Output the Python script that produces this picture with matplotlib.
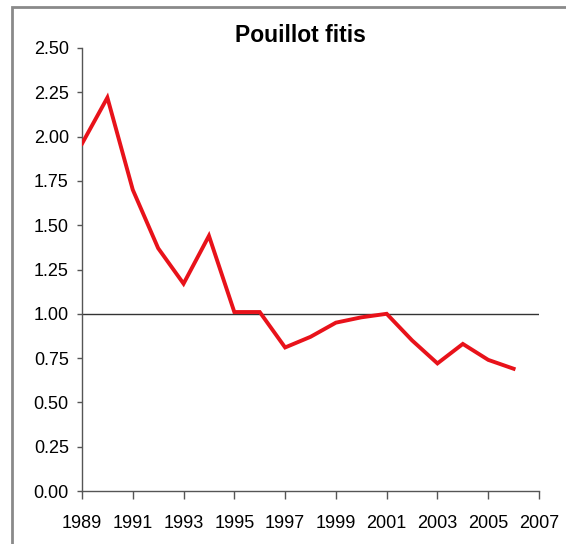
import matplotlib
matplotlib.use('Agg')
import matplotlib.pyplot as plt
from matplotlib.patches import Rectangle

plt.rcParams['font.family'] = 'Liberation Sans'

# index values
years = [1989, 1990, 1991, 1992, 1993, 1994, 1995, 1996, 1997,
         1998, 1999, 2000, 2001, 2002, 2003, 2004, 2005, 2006]
index = [1.96, 2.22, 1.70, 1.37, 1.17, 1.44, 1.01, 1.01, 0.81,
         0.87, 0.95, 0.98, 1.00, 0.85, 0.72, 0.83, 0.74, 0.69]
xticks = list(range(1989, 2008, 2))
yticks = [0, 0.25, 0.5, 0.75, 1.0, 1.25, 1.5, 1.75, 2.0, 2.25, 2.5]

fig = plt.figure(figsize=(5.66, 5.44), dpi=100)
ax = fig.add_axes([82 / 566, 1 - 491 / 544, (539 - 82) / 566, (491 - 48) / 544])

ax.plot(years, index, color='#e8121a', lw=2.8, solid_joinstyle='miter', zorder=3)
ax.axhline(1.0, color='#333333', lw=1.0, zorder=2)

ax.set_xlim(1989, 2007)
ax.set_ylim(0, 2.5)
ax.set_xticks(xticks)
ax.set_yticks(yticks)
ax.set_yticklabels(['%.2f' % v for v in yticks])

for s in ['top', 'right']:
    ax.spines[s].set_visible(False)
for s in ['left', 'bottom']:
    ax.spines[s].set_color('#555555')
    ax.spines[s].set_linewidth(1.0)

ax.tick_params(axis='y', direction='out', length=3.5, width=1, color='#555555',
               labelsize=13, pad=6)
ax.tick_params(axis='x', direction='out', length=6, width=1, color='#555555',
               labelsize=13, pad=11)

fig.text(300 / 566, 1 - 35 / 544, 'Pouillot fitis', ha='center', va='center',
         fontsize=16.5, fontweight='bold')

# grey frame around the chart
fig.patches.append(Rectangle((12 / 566, -0.1), 1.5, 1 - 7 / 544 + 0.1,
                             transform=fig.transFigure, fill=False,
                             edgecolor='#8a8a8a', lw=2))

fig.savefig('out.png', dpi=100)
